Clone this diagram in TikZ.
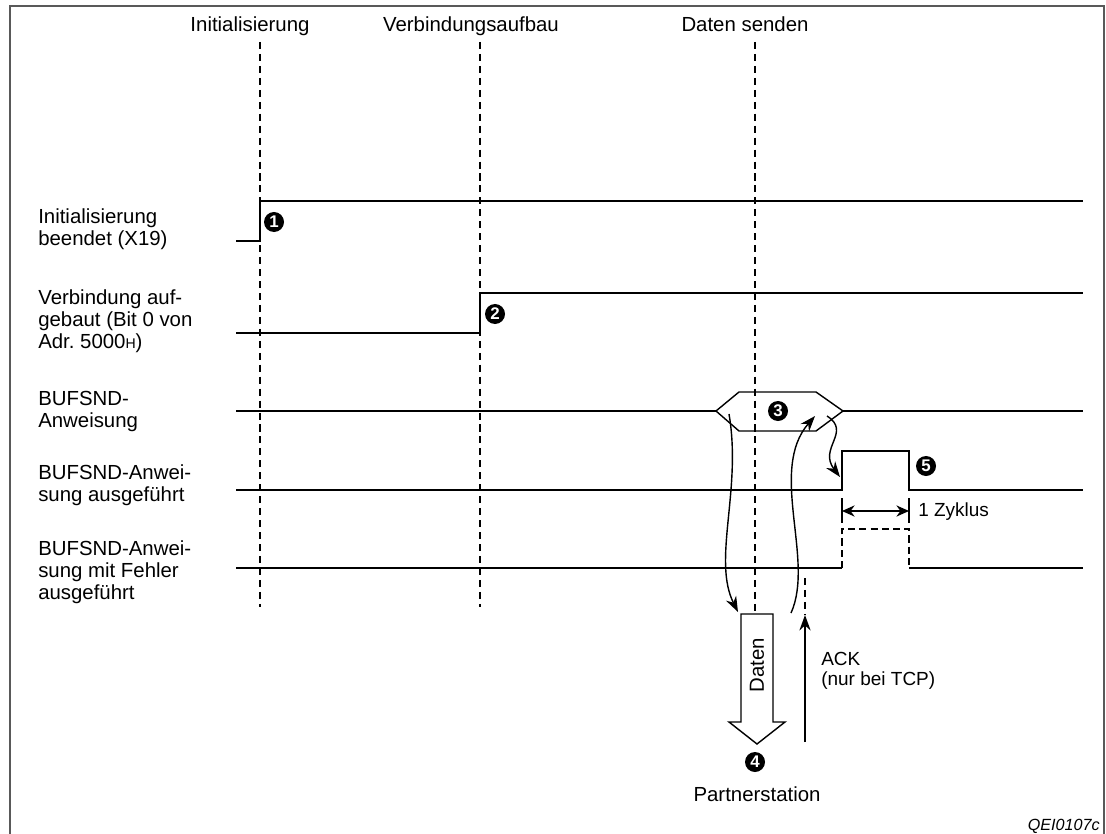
\documentclass[tikz,border=0pt]{standalone}
\usepackage{fontspec}
\setmainfont{Liberation Sans}
\usetikzlibrary{arrows.meta,positioning,calc}
\tikzset{
  >={Stealth[length=11pt,width=8pt]},
  signal/.style={line width=1pt},
  guide/.style={line width=1.5pt,dash pattern=on 5pt off 3.5pt},
  phase/.style={font=\fontsize{14.5}{17}\selectfont},
  siglabel/.style={anchor=base west,align=left,inner sep=0pt,font=\fontsize{14.5}{15.6}\selectfont},
  marker/.style={circle,fill=black,text=white,inner sep=0pt,minimum size=0.5cm,font=\bfseries\fontsize{12}{12}\selectfont},
  note/.style={align=left,inner sep=0pt,font=\fontsize{13.5}{14.2}\selectfont},
  flow/.style={->,line width=1pt}
}

\begin{document}
\begin{tikzpicture}[x=0.025cm,y=-0.025cm]
  \useasboundingbox (0,0) rectangle (1106,834);
  \draw[line width=1.3pt,black!65] (10,834) -- (10,6) -- (1104,6) -- (1104,834);

  % phases
  \node[phase,anchor=base] (pinit) at (250,32) {Initialisierung};
  \node[phase,anchor=base] (pconn) at (471,32) {Verbindungsaufbau};
  \node[phase,anchor=base] (psend) at (745,32) {Daten senden};
  \draw[guide] (260,42) -- (260,607);
  \draw[guide] (480,42) -- (480,607);
  \draw[guide] (755,42) -- (755,614);
  \draw[guide] (805,578) -- (805,614);

  % signal names
  \node[siglabel] (sinit) at (38,245) {Initialisierung\\beendet (X19)};
  \node[siglabel] (sconn) at (38,348) {Verbindung auf-\\gebaut (Bit 0 von\\Adr.\ 5000{\fontsize{10}{10}\selectfont H})};
  \node[siglabel] (sbuf) at (38,427) {BUFSND-\\Anweisung};
  \node[siglabel] (sdone) at (38,501) {BUFSND-Anwei-\\sung ausgef\"uhrt};
  \node[siglabel] (serr) at (38,599) {BUFSND-Anwei-\\sung mit Fehler\\ausgef\"uhrt};

  % waveforms
  \draw[signal] (236,241) -- (260,241) -- (260,201) -- (1083,201);
  \draw[signal] (236,333) -- (480,333) -- (480,293) -- (1083,293);
  \draw[signal] (236,411) -- (716,411);
  \draw[signal] (716,411) -- (739,392) coordinate (hxtl) -- (816,392) coordinate (hxtr)
    -- (843,411) -- (816,431) -- (739,431) -- cycle;
  \draw[signal] (843,411) -- (1083,411);
  \draw[signal] (236,490) -- (842,490) -- (842,451) -- (909,451) -- (909,490) -- (1083,490);
  \draw[signal] (236,568) -- (842,568);
  \draw[signal,line width=1.3pt,dash pattern=on 5pt off 3pt] (842,568) -- (842,529) -- (909,529) -- (909,568);
  \draw[signal] (909,568) -- (1083,568);

  % 1 Zyklus
  \coordinate (zl) at (842,511);
  \coordinate (zr) at (909,511);
  \draw[signal,line width=1.3pt] (842,498) -- (842,523);
  \draw[signal,line width=1.3pt] (909,498) -- (909,523);
  \draw[<->,signal,>={Stealth[length=9pt,width=8pt]}] (zl) -- (zr);
  \node[note,anchor=west] (zyk) at (918,512) {1 Zyklus};

  % markers
  \node[marker] (m1) at (274,222) {1};
  \node[marker] (m2) at (495,314) {2};
  \node[marker] (m3) at (778,411) {3};
  \node[marker] (m4) at (755,762) {4};
  \node[marker] (m5) at (926,466) {5};

  % data flow
  \coordinate (dout) at (729,414);
  \coordinate (din) at (738,612);
  \coordinate (aout) at (791,613);
  \coordinate (ain) at (815,416);
  \coordinate (tout) at (827,416);
  \coordinate (tin) at (840,477);
  \draw[flow] (dout) .. controls (742,490) and (712,560) .. (din);
  \draw[flow] (aout) .. controls (815,560) and (768,470) .. (ain);
  \draw[flow] (tout) .. controls (852,432) and (818,448) .. (tin);

  \draw[signal,fill=white] (741,614) -- (773,614) -- (773,722) -- (785,722)
    -- (757,744) -- (729,722) -- (741,722) -- cycle;
  \node[phase,rotate=90] (daten) at (757,665) {Daten};
  \coordinate (ackfoot) at (805,742);
  \coordinate (ackhead) at (805,615);
  \draw[flow,line width=1.3pt] (ackfoot) -- (ackhead);
  \node[note,anchor=north west] (ack) at (821,652) {ACK\\(nur bei TCP)};
  \node[phase] (partner) at (757,794) {Partnerstation};

  \node[anchor=east,inner sep=0pt,font=\itshape\fontsize{11.5}{12}\selectfont] (fig) at (1100,826) {QEI0107c};
\end{tikzpicture}
\end{document}
